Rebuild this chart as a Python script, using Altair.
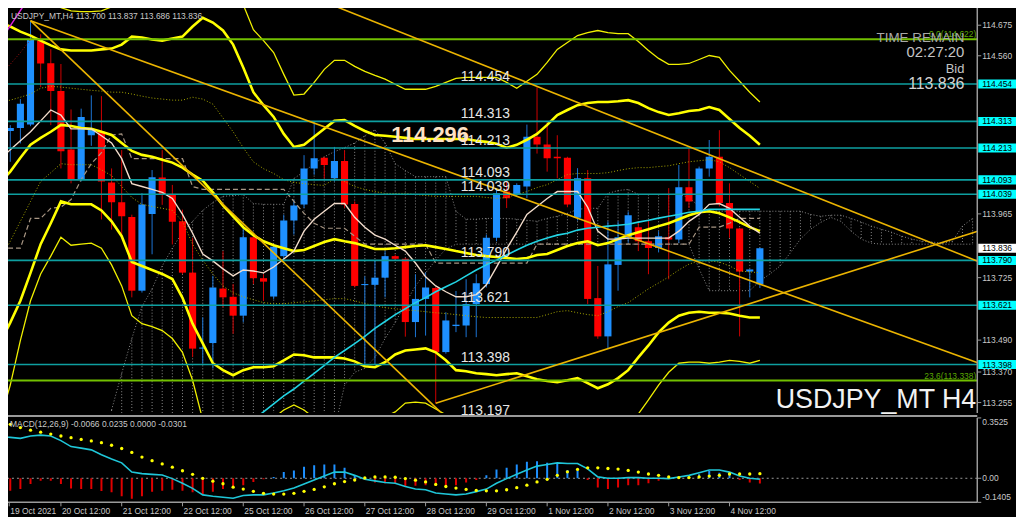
import altair as alt
import numpy as np
import pandas as pd

W, H_MAIN, H_MACD = 983, 413, 85
X_DOMAIN = [0.09, 96.46]
Y_DOMAIN = [113.2159, 114.7593]
M_DOMAIN = [-0.1405, 0.3525]
FONT = "Liberation Sans"
NARROW = "Liberation Sans Narrow, Liberation Sans"
AXIS_GREY = "#9a9a9a"
LABEL_GREY = "#c8c8c8"

# ---------------- candles (H4, index 0 = 19 Oct 12:00) ----------------
opens = [113.945, 114.277, 114.288, 114.301, 114.616, 114.532, 114.427, 114.207, 114.095, 114.261,
         114.274, 114.083, 114.009, 113.953, 113.676, 113.965, 114.102, 114.037, 113.937, 113.744,
         113.458, 113.479, 113.684, 113.653, 113.582, 113.877, 113.723, 113.654, 113.806, 113.940,
         114.000, 114.136, 114.176, 114.099, 114.164, 114.002, 113.697, 113.698, 113.725, 113.806,
         113.796, 113.558, 113.645, 113.686, 113.445, 113.543, 113.545, 113.626, 113.701, 113.875,
         114.049, 114.037, 114.068, 114.255, 114.226, 114.180, 114.176, 113.950, 114.099, 113.648,
         113.504, 113.773, 113.875, 113.915, 113.862, 113.837, 113.877, 113.869, 114.065, 113.975,
         114.136, 114.180, 114.006, 113.910, 113.748, 113.700]
highs = [114.300, 114.299, 114.397, 114.692, 114.641, 114.585, 114.529, 114.358, 114.361, 114.411,
         114.408, 114.136, 114.205, 113.962, 114.043, 114.130, 114.205, 114.074, 113.981, 113.875,
         113.576, 113.732, 113.825, 113.701, 113.912, 113.887, 113.738, 113.850, 113.962, 114.018,
         114.186, 114.311, 114.180, 114.217, 114.205, 114.012, 113.730, 113.788, 113.825, 113.812,
         113.800, 113.738, 113.744, 113.690, 113.595, 113.675, 113.719, 113.738, 113.887, 114.056,
         114.087, 114.080, 114.301, 114.442, 114.311, 114.261, 114.180, 114.137, 114.130, 113.769,
         113.937, 113.937, 113.974, 113.937, 113.937, 113.900, 114.062, 114.149, 114.211, 114.143,
         114.243, 114.280, 114.080, 113.913, 113.756, 113.837]
lows = [113.930, 114.161, 114.230, 114.295, 114.442, 114.299, 114.136, 114.080, 114.087, 114.221,
        113.944, 113.906, 113.881, 113.651, 113.669, 113.813, 113.999, 113.850, 113.738, 113.426,
        113.402, 113.383, 113.613, 113.514, 113.557, 113.701, 113.638, 113.644, 113.788, 113.887,
        113.987, 114.112, 114.099, 114.087, 113.987, 113.688, 113.396, 113.396, 113.651, 113.790,
        113.503, 113.501, 113.507, 113.252, 113.439, 113.520, 113.501, 113.501, 113.688, 113.862,
        113.987, 114.030, 114.024, 114.192, 114.124, 114.099, 113.990, 113.940, 113.626, 113.495,
        113.458, 113.676, 113.856, 113.825, 113.738, 113.820, 113.719, 113.856, 113.987, 113.970,
        114.105, 113.993, 113.875, 113.504, 113.651, 113.686]
closes = [114.274, 114.288, 114.379, 114.622, 114.531, 114.427, 114.201, 114.095, 114.330, 114.284,
          114.087, 114.009, 113.956, 113.676, 114.000, 114.103, 114.037, 113.935, 113.744, 113.458,
          113.462, 113.688, 113.651, 113.582, 113.877, 113.723, 113.710, 113.841, 113.940, 113.997,
          114.136, 114.174, 114.149, 114.164, 114.000, 113.694, 113.700, 113.725, 113.806, 113.796,
          113.558, 113.645, 113.688, 113.445, 113.564, 113.548, 113.626, 113.704, 113.875, 114.043,
          114.024, 114.074, 114.255, 114.226, 114.174, 114.174, 114.000, 114.099, 113.645, 113.504,
          113.775, 113.877, 113.960, 113.862, 113.837, 113.881, 113.869, 114.065, 114.012, 114.136,
          114.180, 114.006, 113.910, 113.748, 113.756, 113.836]

# ---------------- indicators (read per bar) ----------------
band_thick_top = [114.685, 114.670, 114.651, 114.636, 114.617, 114.599, 114.584, 114.580, 114.580, 114.580,
                  114.584, 114.587, 114.602, 114.632, 114.629, 114.621, 114.617, 114.625, 114.632, 114.670,
                  114.703, 114.685, 114.655, 114.602, 114.516, 114.423, 114.374, 114.330, 114.266, 114.217,
                  114.225, 114.255, 114.285, 114.315, 114.318, 114.296, 114.277, 114.262, 114.259, 114.255,
                  114.251, 114.247, 114.247, 114.247, 114.247, 114.247, 114.247, 114.240, 114.236, 114.229,
                  114.214, 114.225, 114.244, 114.266, 114.300, 114.337, 114.356, 114.374, 114.382, 114.386,
                  114.386, 114.389, 114.393, 114.382, 114.363, 114.348, 114.337, 114.344, 114.352, 114.356,
                  114.367, 114.356, 114.322, 114.288, 114.259, 114.225]
band_thick_mid = [114.083, 114.124, 114.176, 114.225, 114.251, 114.274, 114.300, 114.296, 114.288, 114.285,
                  114.274, 114.262, 114.232, 114.202, 114.187, 114.180, 114.169, 114.158, 114.139, 114.113,
                  114.090, 114.046, 113.997, 113.956, 113.915, 113.885, 113.862, 113.847, 113.836, 113.825,
                  113.829, 113.844, 113.859, 113.870, 113.862, 113.855, 113.844, 113.833, 113.833, 113.836,
                  113.840, 113.844, 113.847, 113.840, 113.833, 113.825, 113.818, 113.810, 113.806, 113.803,
                  113.799, 113.795, 113.799, 113.810, 113.814, 113.829, 113.844, 113.855, 113.862, 113.847,
                  113.855, 113.870, 113.885, 113.896, 113.907, 113.919, 113.930, 113.945, 113.960, 113.971,
                  113.975, 113.967, 113.952, 113.934, 113.915, 113.900]
band_thick_low = [113.481, 113.556, 113.638, 113.743, 113.851, 113.930, 114.012, 114.001, 114.001, 114.001,
                  113.978, 113.937, 113.881, 113.784, 113.769, 113.754, 113.739, 113.720, 113.649, 113.552,
                  113.478, 113.403, 113.377, 113.358, 113.377, 113.388, 113.388, 113.392, 113.414, 113.436,
                  113.433, 113.425, 113.425, 113.425, 113.421, 113.410, 113.392, 113.388, 113.407, 113.436,
                  113.451, 113.455, 113.459, 113.444, 113.414, 113.377, 113.373, 113.365, 113.362, 113.358,
                  113.362, 113.365, 113.354, 113.343, 113.336, 113.332, 113.339, 113.347, 113.328, 113.309,
                  113.324, 113.347, 113.377, 113.425, 113.470, 113.519, 113.556, 113.582, 113.593, 113.597,
                  113.593, 113.593, 113.590, 113.582, 113.575, 113.575]
band_thin_top = [115.040, 114.980, 114.930, 114.870, 114.815, 114.767,
                 114.741, 114.729, 114.726, 114.726, 114.729, 114.744, 114.789,
                 114.830, 114.870, 114.890, 114.900, 114.900, 114.890, 114.870, 114.850, 114.830, 114.800,
                 114.774, 114.752, 114.658, 114.617, 114.572, 114.490, 114.412,
                 114.416, 114.460, 114.509, 114.543, 114.543, 114.520, 114.501, 114.486, 114.472, 114.453,
                 114.434, 114.434, 114.434, 114.445, 114.460, 114.475, 114.479, 114.479, 114.479, 114.479,
                 114.460, 114.438, 114.464, 114.490, 114.535, 114.584, 114.610, 114.636, 114.647, 114.655,
                 114.647, 114.643, 114.643, 114.614, 114.580, 114.550, 114.528, 114.528, 114.531, 114.546,
                 114.561, 114.554, 114.505, 114.464, 114.423, 114.386]
band_thin_low = [113.190, 113.321, 113.489, 113.638, 113.739, 113.806, 113.877, 113.847, 113.851, 113.855,
                 113.836, 113.773, 113.694, 113.582, 113.552, 113.541, 113.526, 113.496, 113.444, 113.339,
                 113.190, 113.115, 113.078, 113.078, 113.096, 113.134, 113.171, 113.197, 113.227, 113.246,
                 113.227, 113.197, 113.160, 113.134, 113.134, 113.152, 113.190, 113.208, 113.201, 113.220,
                 113.253, 113.257, 113.253, 113.231, 113.209, 113.171, 113.134, 113.115, 113.096, 113.096,
                 113.096, 113.096, 113.085, 113.078, 113.070, 113.059, 113.059, 113.070, 113.085, 113.115,
                 113.152, 113.171, 113.197, 113.212, 113.265, 113.321, 113.369, 113.403, 113.407, 113.407,
                 113.403, 113.407, 113.414, 113.410, 113.403, 113.414]
dotted_upper = [114.386, 114.393, 114.404, 114.416, 114.438, 114.445, 114.442, 114.438, 114.434, 114.430,
                114.427, 114.423, 114.423, 114.416, 114.408, 114.401, 114.397, 114.393, 114.393, 114.404,
                114.397, 114.378, 114.326, 114.274, 114.214, 114.161, 114.135, 114.117, 114.094, 114.083,
                114.079, 114.075, 114.072, 114.098, 114.087, 114.068, 114.057, 114.049, 114.042, 114.042,
                114.042, 114.038, 114.034, 114.031, 114.031, 114.031, 114.031, 114.031, 114.027, 114.023,
                114.027, 114.038, 114.049, 114.064, 114.075, 114.094, 114.113, 114.117, 114.117, 114.117,
                114.120, 114.128, 114.135, 114.139, 114.139, 114.143, 114.146, 114.154, 114.161, 114.165,
                114.169, 114.161, 114.139, 114.113, 114.087, 114.061]
dotted_lower = [113.791, 113.862, 113.937, 114.012, 114.087, 114.120, 114.154, 114.150, 114.150, 114.150,
                114.131, 114.109, 114.068, 114.027, 114.001, 113.993, 113.986, 113.978, 113.937, 113.851,
                113.791, 113.739, 113.694, 113.668, 113.653, 113.642, 113.631, 113.627, 113.627, 113.631,
                113.634, 113.638, 113.642, 113.646, 113.646, 113.638, 113.627, 113.620, 113.612, 113.608,
                113.604, 113.601, 113.597, 113.593, 113.590, 113.586, 113.582, 113.578, 113.575, 113.575,
                113.575, 113.575, 113.575, 113.575, 113.586, 113.597, 113.601, 113.593, 113.586, 113.582,
                113.597, 113.616, 113.631, 113.657, 113.683, 113.705, 113.728, 113.754, 113.776, 113.788,
                113.788, 113.784, 113.769, 113.750, 113.747, 113.743]
fast_ma = [114.173, 114.206, 114.240, 114.274, 114.315, 114.356, 114.337, 114.285, 114.285, 114.285,
           114.259, 114.232, 114.173, 114.079, 114.068, 114.057, 114.046, 114.023, 113.963, 113.892,
           113.814, 113.788, 113.758, 113.732, 113.754, 113.750, 113.743, 113.765, 113.795, 113.825,
           113.900, 113.945, 113.975, 114.004, 114.004, 113.952, 113.915, 113.885, 113.870, 113.847,
           113.825, 113.780, 113.728, 113.694, 113.672, 113.653, 113.653, 113.661, 113.698, 113.765,
           113.833, 113.896, 113.963, 113.993, 114.023, 114.049, 114.049, 114.049, 113.990, 113.900,
           113.870, 113.870, 113.874, 113.874, 113.874, 113.874, 113.874, 113.900, 113.937, 113.963,
           114.001, 114.004, 113.986, 113.952, 113.919, 113.892]
slow_ma = [None] * 25 + [113.190,
           113.220, 113.250, 113.280, 113.306, 113.336, 113.365, 113.395, 113.425, 113.451, 113.477,
           113.504, 113.534, 113.560, 113.586, 113.608, 113.631, 113.650, 113.672, 113.691, 113.709,
           113.732, 113.754, 113.773, 113.791, 113.810, 113.829, 113.847, 113.862, 113.874, 113.885,
           113.892, 113.904, 113.911, 113.915, 113.919, 113.922, 113.926, 113.934, 113.941, 113.949,
           113.956, 113.963, 113.971, 113.975, 113.982, 113.982, 113.982, 113.982, 113.982, 113.982]
kijun = [113.836, 113.836, 113.836, 113.948, 113.948, 113.986, 113.990, 114.019, 114.094, 114.154,
         114.195, 114.262, 114.266, 114.173, 114.173, 114.173, 114.173, 114.173, 114.173, 114.068,
         114.057, 114.057, 114.057, 114.057, 114.057, 114.057, 114.057, 114.057, 114.057, 114.012,
         113.967, 113.930, 113.911, 113.911, 113.911, 113.881, 113.851, 113.851, 113.851, 113.851,
         113.851, 113.851, 113.851, 113.780, 113.780, 113.780, 113.780, 113.780, 113.780, 113.780,
         113.780, 113.780, 113.780, 113.851, 113.851, 113.851, 113.851, 113.851, 113.851, 113.851,
         113.851, 113.851, 113.851, 113.851, 113.851, 113.851, 113.851, 113.851, 113.851, 113.915,
         113.915, 113.915, 113.930, 113.948, 113.948, 113.948]
red_dotted = [114.490, 114.528, 114.572, 114.621]
CLOUD_START = 11
cloud_span_a = [113.227, 113.365, 113.496, 113.616, 113.683, 113.769, 113.836, 113.896, 113.937, 113.978,
                114.008, 114.031, 114.034, 114.038, 114.004, 114.001, 114.001, 114.001, 114.098, 114.124,
                114.154, 114.180, 114.199, 114.214, 114.232, 114.259, 114.281, 114.232, 114.154, 114.128,
                114.105, 114.105, 114.105, 114.105, 113.975, 113.945, 113.945, 113.948, 113.948, 113.948,
                113.945, 113.941, 113.937, 113.948, 113.956, 113.967, 113.982, 113.986, 113.986, 114.042,
                114.053, 114.057, 114.038, 114.038, 114.038, 114.038, 114.038, 114.027, 113.993, 113.975,
                113.975, 113.975, 113.975, 113.975, 113.975, 113.975, 113.975, 113.975, 113.975, 113.963,
                113.956, 113.960, 113.960, 113.948, 113.934, 113.919, 113.907, 113.896, 113.881, 113.870,
                113.862, 113.859, 113.855, 113.862, 113.919, 113.948]
cloud_span_b = ([113.152] * 23 +
                [113.320, 113.369, 113.384, 113.425, 113.496, 113.556, 113.627, 113.694, 113.743, 113.791, 113.833] +
                [113.851] * 24 +
                [113.758, 113.676, 113.676, 113.676, 113.676, 113.676] +
                [113.713, 113.739, 113.769, 113.818, 113.870, 113.907, 113.933, 113.952, 113.937, 113.900, 113.870, 113.855] +
                [113.851] * 10)

# ---------------- objects ----------------
levels = [114.454, 114.313, 114.213, 114.093, 114.039, 113.790, 113.621, 113.398]
level_texts = levels + [113.197]
fib_levels = [114.622, 113.338]
fib_labels = ["0.0(114.622)", "23.6(113.338)"]
trend_names = ["a", "a", "b", "b", "c", "c", "d", "d"]
trend_idx = [3, 43.5, 3, 96.5, 30, 96.5, 43, 96.5]
trend_price = [114.692, 113.218, 114.692, 113.405, 114.793, 113.787, 113.252, 113.900]
magenta_idx = [0.0, 2.6]
magenta_price = [114.615, 114.765]
bid_price = 113.836
price_ticks = [114.675, 114.560, 113.965, 113.725, 113.490, 113.370, 113.255]

# ---------------- MACD ----------------
macd_hist = [-0.080,
             -0.073, -0.063, -0.034, -0.015, -0.015, -0.034, -0.059, -0.063, -0.063, -0.075,
             -0.082, -0.105, -0.120, -0.105, -0.078, -0.073, -0.067, -0.073, -0.082, -0.092,
             -0.078, -0.063, -0.054, -0.040, -0.021, -0.006, 0.008, 0.036, 0.046, 0.067,
             0.076, 0.080, 0.080, 0.061, 0.017, -0.010, -0.025, -0.029, -0.029, -0.048,
             -0.044, -0.040, -0.044, -0.048, -0.040, -0.025, -0.010, 0.017, 0.052, 0.061,
             0.080, 0.096, 0.099, 0.090, 0.084, 0.048, 0.042, -0.010, -0.054, -0.063,
             -0.054, -0.040, -0.040, -0.029, -0.015, -0.004, 0.003, 0.010, 0.023, 0.042,
             0.032, 0.029, -0.010, -0.025, -0.030]
macd_line = [0.243, 0.239, 0.233, 0.247, 0.252, 0.247, 0.220, 0.185, 0.176, 0.166,
             0.138, 0.113, 0.090, 0.036, 0.027, 0.023, 0.019, -0.002, -0.029, -0.059,
             -0.097, -0.105, -0.111, -0.117, -0.101, -0.097, -0.097, -0.086, -0.073, -0.057,
             -0.034, -0.010, 0.013, 0.036, 0.036, 0.017, -0.006, -0.015, -0.025, -0.029,
             -0.048, -0.063, -0.067, -0.086, -0.092, -0.097, -0.092, -0.078, -0.063, -0.029,
             -0.002, 0.023, 0.048, 0.071, 0.080, 0.090, 0.086, 0.086, 0.055, 0.008,
             0.000, 0.000, 0.004, 0.004, 0.000, 0.000, -0.002, 0.008, 0.017, 0.032,
             0.048, 0.048, 0.036, 0.013, 0.000, -0.006]
macd_signal = [0.330, 0.315, 0.296, 0.281, 0.269, 0.258, 0.247, 0.237, 0.227, 0.218,
               0.208, 0.193, 0.174, 0.151, 0.124, 0.103, 0.084, 0.065, 0.044, 0.023,
               0.000, -0.017, -0.032, -0.052, -0.063, -0.076, -0.088, -0.092, -0.092, -0.088,
               -0.076, -0.065, -0.050, -0.032, -0.019, -0.010, 0.002, 0.008, 0.008, 0.006,
               -0.002, -0.011, -0.021, -0.036, -0.048, -0.057, -0.065, -0.071, -0.073, -0.073,
               -0.067, -0.055, -0.040, -0.021, -0.006, 0.017, 0.038, 0.052, 0.061, 0.061,
               0.057, 0.054, 0.046, 0.036, 0.025, 0.017, 0.008, 0.004, 0.004, 0.008,
               0.013, 0.017, 0.025, 0.025, 0.025, 0.027]
macd_ticks = [0.3525, 0.0, -0.1405]
date_ticks = [0.9, 6, 12, 18, 24, 30, 36, 42, 48, 54, 60, 66, 72]
date_labels = ["19 Oct 2021", "20 Oct 12:00", "21 Oct 12:00", "22 Oct 12:00", "25 Oct 12:00",
               "26 Oct 12:00", "27 Oct 12:00", "28 Oct 12:00", "29 Oct 12:00", "1 Nov 12:00",
               "2 Nov 12:00", "3 Nov 12:00", "4 Nov 12:00"]

# ======================================================================
xs = alt.Scale(domain=X_DOMAIN, nice=False, zero=False)
ys = alt.Scale(domain=Y_DOMAIN, nice=False, zero=False)
ms = alt.Scale(domain=M_DOMAIN, nice=False, zero=False)


def X(f="i"):
    return alt.X(f"{f}:Q", scale=xs, axis=None)


def Y(f="v", s=ys):
    return alt.Y(f"{f}:Q", scale=s, axis=None)


def series_line(values, color, width, dash=None, start=0, scale=ys):
    df = pd.DataFrame({"i": list(range(start, start + len(values))), "v": values}).dropna()
    kw = dict(color=color, strokeWidth=width, clip=True)
    if dash:
        kw["strokeDash"] = dash
    return alt.Chart(df).mark_line(**kw).encode(x=X(), y=Y("v", scale))


def ptext(txt, x, y, size, color, align="right", font=FONT, weight="normal", baseline="middle"):
    return alt.Chart(pd.DataFrame({"t": [txt]})).mark_text(
        align=align, baseline=baseline, fontSize=size, font=font, fontWeight=weight, color=color
    ).encode(x=alt.value(x), y=alt.value(y), text="t:N")


def frame_rule(x, x2, y, y2, width=1.5):
    return alt.Chart(pd.DataFrame({"a": [0]})).mark_rule(color=AXIS_GREY, strokeWidth=width).encode(
        x=alt.value(x), x2=alt.value(x2), y=alt.value(y), y2=alt.value(y2))


n = len(opens)
cdf = pd.DataFrame({"i": range(n), "o": opens, "h": highs, "l": lows, "c": closes})
up = cdf.c >= cdf.o
cdf["body"] = np.where(up, "#1e90ff", "#ff0000")
cdf["wick"] = np.where(up, "#1c74d4", "#d00000")
cdf["b0"] = cdf[["o", "c"]].min(axis=1)
cdf["b1"] = np.maximum(cdf[["o", "c"]].max(axis=1), cdf["b0"] + 0.004)
cdf["x0"] = cdf.i - 0.35
cdf["x1"] = cdf.i + 0.35

layers = []

# Ichimoku cloud hatch
cl = pd.DataFrame({"i": range(CLOUD_START, CLOUD_START + len(cloud_span_a)),
                   "a": cloud_span_a, "b": cloud_span_b})
layers.append(alt.Chart(cl).mark_rule(color="#8a8a8a", strokeWidth=1, strokeDash=[1, 2], clip=True)
              .encode(x=X(), y=Y("a"), y2="b:Q"))
layers.append(series_line(cloud_span_a, "#8a8a8a", 1, [1, 2], start=CLOUD_START))
layers.append(series_line(cloud_span_b, "#8a8a8a", 1, [1, 2], start=CLOUD_START))

# candles
layers.append(alt.Chart(cdf).mark_rule(strokeWidth=1, clip=True).encode(
    x=X(), y=Y("l"), y2="h:Q", color=alt.Color("wick:N", scale=None)))
layers.append(alt.Chart(cdf).mark_rect(clip=True).encode(
    x=X("x0"), x2="x1:Q", y=Y("b0"), y2="b1:Q", color=alt.Color("body:N", scale=None)))

# indicators
layers.append(series_line(kijun, "#a89684", 1.2, [5, 3]))
layers.append(series_line(dotted_upper, "#a8a800", 1, [1, 2]))
layers.append(series_line(dotted_lower, "#a8a800", 1, [1, 2]))
layers.append(series_line(red_dotted, "#a01010", 1, [1, 2]))
layers.append(series_line(band_thin_top, "#f0f000", 1.3))
layers.append(series_line(band_thin_low, "#f0f000", 1.3))
layers.append(series_line(band_thick_top, "#ffff00", 2.6))
layers.append(series_line(band_thick_mid, "#ffff00", 2.6))
layers.append(series_line(band_thick_low, "#ffff00", 2.6))
layers.append(series_line(fast_ma, "#f2dccb", 1.4))
layers.append(series_line(slow_ma, "#22d4e4", 1.6))

# horizontal levels & fib lines
ldf = pd.DataFrame({"v": levels})
layers.append(alt.Chart(ldf).mark_rule(color="#0e9fa0", strokeWidth=1.6, clip=True).encode(y=Y("v")))
fdf = pd.DataFrame({"v": fib_levels, "t": fib_labels})
layers.append(alt.Chart(fdf).mark_rule(color="#72c000", strokeWidth=2, clip=True).encode(y=Y("v")))

# trend lines
tdf = pd.DataFrame({"k": trend_names, "i": trend_idx, "v": trend_price})
layers.append(alt.Chart(tdf).mark_line(color="#ebb400", strokeWidth=1.6, clip=True).encode(
    x=X(), y=Y("v"), detail="k:N"))
mdf_ = pd.DataFrame({"i": magenta_idx, "v": magenta_price})
layers.append(alt.Chart(mdf_).mark_line(color="#e020e0", strokeWidth=1.5, clip=True).encode(x=X(), y=Y("v")))

# level texts on chart
ltx = pd.DataFrame({"v": level_texts, "t": [f"{v:.3f}" for v in level_texts]})
layers.append(alt.Chart(ltx).mark_text(align="left", baseline="alphabetic", dy=-3, fontSize=14,
                                       font=FONT, color="#e6e6e6").encode(
    x=alt.value(463), y=Y("v"), text="t:N"))
btx = pd.DataFrame({"i": [38.6], "v": [114.262], "t": ["114.296"]})
layers.append(alt.Chart(btx).mark_text(align="left", baseline="middle", fontSize=22, fontWeight="bold",
                                       font=FONT, color="#ffe2c4").encode(x=X(), y=Y("v"), text="t:N"))
# fib labels
layers.append(alt.Chart(fdf).mark_text(align="right", baseline="alphabetic", dy=-2, fontSize=8.5,
                                       font=FONT, color="#5aa800").encode(
    x=alt.value(982), y=Y("v"), text="t:N"))

# price scale (right) drawn by hand
layers.append(frame_rule(W, W, 0, H_MAIN))
ptdf = pd.DataFrame({"v": price_ticks, "t": [f"{v:.3f}" for v in price_ticks]})
layers.append(alt.Chart(ptdf).mark_rule(color=AXIS_GREY, strokeWidth=1).encode(
    x=alt.value(W), x2=alt.value(W + 4), y=Y("v")))
layers.append(alt.Chart(ptdf).mark_text(align="left", baseline="middle", fontSize=8.5, font=FONT,
                                        color=LABEL_GREY).encode(x=alt.value(W + 5), y=Y("v"), text="t:N"))

# price boxes on the axis
bx = pd.DataFrame({"v": levels + [bid_price],
                   "t": [f"{v:.3f}" for v in levels + [bid_price]],
                   "f": ["#00ffff"] * len(levels) + ["#ffffff"]})
bx["v0"] = bx.v - 0.017
bx["v1"] = bx.v + 0.017
layers.append(alt.Chart(bx).mark_rect().encode(
    x=alt.value(984), x2=alt.value(1022), y=Y("v0"), y2="v1:Q", color=alt.Color("f:N", scale=None)))
layers.append(alt.Chart(bx).mark_text(align="center", baseline="middle", fontSize=8.5, font=FONT,
                                      color="#000000").encode(x=alt.value(1003), y=Y("v"), text="t:N"))

# info texts
layers.append(ptext("USDJPY_MT,H4  113.700 113.837 113.686 113.836", 10, 13, 8.5, LABEL_GREY, align="left"))
layers.append(ptext("TIME REMAIN", 970, 35, 13.5, "#a8a8a8", font=NARROW))
layers.append(ptext("02:27:20", 970, 50, 15, "#c4c4c4"))
layers.append(ptext("Bid", 970, 67, 13, "#c4c4c4", font=NARROW))
layers.append(ptext("113.836", 970, 82, 16, "#d2d2d2"))
layers.append(ptext("USDJPY_MT H4", 982, 408, 27, "#f2f2f2", baseline="alphabetic"))

main = alt.layer(*layers).properties(width=W, height=H_MAIN)

# ---------------- MACD panel ----------------
md = pd.DataFrame({"i": range(n), "h": macd_hist, "m": macd_line, "s": macd_signal, "z": 0.0})
md["col"] = np.where(md.h >= 0, "#1e90ff", "#e00000")

m_layers = []
m_layers.append(alt.Chart(pd.DataFrame({"z": [0.0]})).mark_rule(
    color="#9a9a9a", strokeDash=[2, 3], strokeWidth=1).encode(y=Y("z", ms)))
m_layers.append(alt.Chart(md).mark_rule(strokeWidth=2, clip=True).encode(
    x=X(), y=Y("z", ms), y2="h:Q", color=alt.Color("col:N", scale=None)))
m_layers.append(alt.Chart(md).mark_line(color="#1fc6d8", strokeWidth=1.6, clip=True).encode(
    x=X(), y=Y("m", ms)))
m_layers.append(alt.Chart(md).mark_circle(color="#ffff00", size=11, opacity=1, clip=True).encode(
    x=X(), y=Y("s", ms)))

# frame: top separator, right scale, bottom time scale
m_layers.append(frame_rule(0, W, -2, -2, 2))
m_layers.append(frame_rule(W, W, 0, H_MACD))
m_layers.append(frame_rule(0, W, H_MACD, H_MACD))

# MACD scale labels
mtk = pd.DataFrame({"v": macd_ticks})
m_layers.append(alt.Chart(mtk).mark_rule(color=AXIS_GREY, strokeWidth=1).encode(
    x=alt.value(W), x2=alt.value(W + 4), y=Y("v", ms)))
for val, base in zip(macd_ticks, ["top", "middle", "bottom"]):
    lab = "0.00" if val == 0 else f"{val:.4f}"
    m_layers.append(alt.Chart(pd.DataFrame({"v": [val], "t": [lab]})).mark_text(
        align="left", baseline=base, fontSize=8.5, font=FONT, color=LABEL_GREY).encode(
        x=alt.value(W + 5), y=Y("v", ms), text="t:N"))

# time scale
ddf = pd.DataFrame({"i": date_ticks, "t": date_labels})
m_layers.append(alt.Chart(ddf).mark_rule(color=AXIS_GREY, strokeWidth=1).encode(
    x=X(), y=alt.value(H_MACD), y2=alt.value(H_MACD + 4)))
m_layers.append(alt.Chart(ddf).mark_text(align="left", baseline="middle", dx=1, fontSize=8.5, font=FONT,
                                         color=LABEL_GREY).encode(
    x=X(), y=alt.value(H_MACD + 9), text="t:N"))

m_layers.append(ptext("MACD(12,26,9) -0.0066 0.0235 0.0000 -0.0301", 9, 6, 8.5, LABEL_GREY, align="left"))

macd = alt.layer(*m_layers).properties(width=W, height=H_MACD)

chart = alt.vconcat(main, macd, spacing=5, bounds="flush").properties(
    padding={"left": -8, "top": -8, "right": 0, "bottom": 0},
    background="#000000",
).configure_view(stroke=None)

chart.save("out.html", embed_options={"renderer": "svg", "actions": False})
